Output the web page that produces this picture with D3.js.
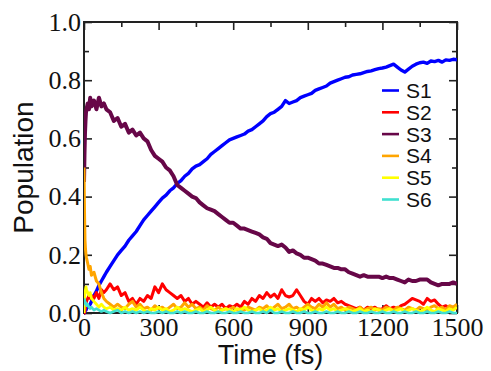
<!DOCTYPE html>
<html><head><meta charset="utf-8">
<script src="https://cdn.jsdelivr.net/npm/d3@7"></script>
<style>body{margin:0;background:#fff}svg{display:block}</style>
</head><body><svg id="c" width="491" height="371"></svg>
<script>
const time = [0,2,4,6,8,10,15,20,25,30,40,50,60,70,80,
 90,105,120,135,150,165,180,195,210,225,
 240,255,270,285,300,315,330,345,360,375,
 390,405,420,435,450,465,480,495,510,525,
 540,555,570,585,600,615,630,645,660,675,
 690,705,720,735,750,765,780,795,810,825,
 840,855,870,885,900,915,930,945,960,975,
 990,1005,1020,1035,1050,1065,1080,1095,1110,1125,
 1140,1155,1170,1185,1200,1215,1230,1245,1260,1275,
 1290,1305,1320,1335,1350,1365,1380,1395,1410,1425,
 1440,1455,1470,1485,1500];

const s1 = [0,0,0.005,0.01,0.01,0.015,0.02,0.025,0.03,0.04,0.06,0.075,0.095,0.11,0.125,
 0.14,0.16,0.18,0.20,0.215,0.23,0.25,0.265,0.28,0.30,
 0.32,0.335,0.35,0.365,0.38,0.395,0.405,0.42,0.43,0.445,
 0.455,0.47,0.48,0.495,0.505,0.51,0.52,0.53,0.545,0.555,
 0.565,0.575,0.585,0.595,0.60,0.605,0.61,0.615,0.625,0.63,
 0.64,0.65,0.66,0.675,0.685,0.69,0.70,0.71,0.73,0.72,
 0.725,0.73,0.74,0.745,0.75,0.755,0.765,0.77,0.775,0.78,
 0.79,0.795,0.80,0.805,0.81,0.812,0.818,0.82,0.822,0.826,
 0.83,0.832,0.836,0.84,0.842,0.845,0.85,0.855,0.845,0.835,
 0.828,0.838,0.848,0.855,0.86,0.862,0.858,0.866,0.864,0.868,
 0.862,0.87,0.868,0.872,0.87];

const s2 = [0,0,0.01,0.02,0.03,0.04,0.05,0.06,0.05,0.06,0.05,0.07,0.05,0.08,0.07,
 0.08,0.10,0.08,0.09,0.06,0.07,0.04,0.05,0.03,0.05,
 0.04,0.06,0.05,0.09,0.07,0.10,0.08,0.07,0.06,0.05,
 0.06,0.04,0.05,0.03,0.04,0.03,0.02,0.035,0.02,0.03,
 0.02,0.03,0.015,0.025,0.02,0.03,0.02,0.04,0.03,0.05,
 0.04,0.06,0.05,0.07,0.055,0.065,0.05,0.08,0.06,0.055,
 0.06,0.08,0.06,0.04,0.03,0.05,0.04,0.05,0.035,0.045,
 0.04,0.05,0.035,0.04,0.03,0.025,0.02,0.015,0.02,0.01,
 0.02,0.015,0.02,0.01,0.015,0.025,0.015,0.02,0.015,0.025,
 0.03,0.04,0.05,0.045,0.04,0.03,0.05,0.04,0.045,0.03,
 0.02,0.025,0.015,0.02,0.015];

const s3 = [0.45,0.55,0.62,0.66,0.69,0.70,0.72,0.70,0.74,0.71,0.73,0.70,0.74,0.71,0.72,
 0.70,0.69,0.66,0.67,0.64,0.65,0.62,0.63,0.61,0.62,
 0.60,0.59,0.56,0.54,0.53,0.52,0.50,0.49,0.47,0.44,
 0.43,0.42,0.41,0.40,0.395,0.38,0.37,0.36,0.355,0.35,
 0.34,0.33,0.32,0.31,0.31,0.30,0.29,0.29,0.285,0.28,
 0.275,0.27,0.26,0.255,0.24,0.235,0.23,0.235,0.225,0.21,
 0.215,0.205,0.20,0.19,0.19,0.185,0.18,0.17,0.17,0.165,
 0.16,0.155,0.155,0.15,0.15,0.14,0.135,0.13,0.125,0.13,
 0.125,0.125,0.125,0.125,0.12,0.125,0.12,0.12,0.115,0.11,
 0.105,0.115,0.11,0.11,0.115,0.115,0.115,0.105,0.10,0.095,
 0.10,0.10,0.10,0.105,0.10];

const s4 = [0.50,0.35,0.25,0.22,0.20,0.19,0.17,0.15,0.16,0.13,0.14,0.11,0.10,0.07,0.05,
 0.04,0.03,0.02,0.03,0.02,0.015,0.03,0.04,0.02,0.03,
 0.015,0.02,0.01,0.025,0.015,0.02,0.01,0.02,0.03,0.015,
 0.02,0.035,0.02,0.03,0.015,0.02,0.01,0.025,0.015,0.01,
 0.02,0.01,0.015,0.01,0.02,0.01,0.015,0.01,0.02,0.015,
 0.01,0.02,0.015,0.025,0.01,0.02,0.03,0.015,0.02,0.03,
 0.015,0.02,0.01,0.02,0.03,0.02,0.015,0.03,0.02,0.035,
 0.02,0.03,0.015,0.02,0.01,0.02,0.015,0.01,0.02,0.01,
 0.015,0.02,0.01,0.015,0.01,0.02,0.015,0.01,0.02,0.015,
 0.01,0.02,0.015,0.01,0.02,0.015,0.01,0.02,0.025,0.015,
 0.02,0.01,0.025,0.02,0.03];

const s5 = [0,0.04,0.07,0.08,0.09,0.08,0.07,0.06,0.07,0.05,0.04,0.03,0.02,0.03,0.02,
 0.015,0.02,0.01,0.015,0.01,0.02,0.01,0.015,0.01,0.02,
 0.01,0.005,0.015,0.01,0.02,0.01,0.015,0.005,0.01,0.02,
 0.01,0.015,0.01,0.005,0.01,0.015,0.005,0.01,0.02,0.01,
 0.005,0.01,0.015,0.01,0.005,0.015,0.01,0.02,0.01,0.005,
 0.01,0.015,0.005,0.01,0.02,0.01,0.015,0.005,0.01,0.015,
 0.01,0.005,0.015,0.01,0.02,0.01,0.005,0.015,0.01,0.02,
 0.01,0.015,0.005,0.01,0.015,0.01,0.005,0.01,0.015,0.005,
 0.01,0.005,0.015,0.01,0.005,0.01,0.015,0.005,0.01,0.015,
 0.005,0.01,0.015,0.01,0.005,0.01,0.02,0.01,0.005,0.015,
 0.01,0.005,0.015,0.01,0.02];

const s6 = [0.05,0.045,0.04,0.03,0.035,0.025,0.03,0.02,0.015,0.02,0.01,0.015,0.01,0.005,0.01,
 0.005,0,0.005,0.01,0,0.005,0,0.005,0,0.005,
 0,0.005,0,0,0.005,0,0.005,0,0,0.005,
 0,0.005,0,0,0.005,0,0,0.005,0,0,
 0.005,0,0,0.005,0,0,0.005,0,0,0.005,
 0,0,0.005,0,0.01,0,0,0.005,0,0,
 0.005,0,0,0.005,0,0,0.005,0,0,0.005,
 0,0,0.005,0,0,0.005,0,0,0.005,0,
 0,0.005,0,0,0.005,0,0,0.005,0,0,
 0.005,0,0,0.005,0,0,0.005,0,0,0.005,
 0,0,0.005,0,0];

const seriesNames = ["S1","S2","S3","S4","S5","S6"];
const seriesValues = [s1,s2,s3,s4,s5,s6];
const seriesColors = ["#0000ff","#ff0000","#670748","#ffa500","#ffff00","#40e0d0"];
const seriesWidths = [3.4,3,4,3,2.8,2.6];
const xTicks = [0,300,600,900,1200,1500];
const xMinor = [150,450,750,1050,1350];
const yTicks = [0.0,0.2,0.4,0.6,0.8,1.0];
const yMinor = [0.1,0.3,0.5,0.7,0.9];
const xTitle = "Time (fs)";
const yTitle = "Population";

const svg = d3.select("#c");
const L = 84, R = 457, T = 22, B = 313;
const x = d3.scaleLinear().domain([0,1500]).range([L,R]);
const y = d3.scaleLinear().domain([0,1]).range([B,T]);

const serif = "'Liberation Serif','Times New Roman',Times,serif";
const sans = "'Liberation Sans',Arial,Helvetica,sans-serif";

svg.append("rect").attr("x",L).attr("y",T).attr("width",R-L).attr("height",B-T)
  .attr("fill","none").attr("stroke","#222").attr("stroke-width",2);

function styleAxis(g){
  g.select(".domain").remove();
  g.selectAll(".tick line").attr("stroke","#222").attr("stroke-width",1.6);
  g.selectAll("text").attr("font-family",serif).attr("font-size",26).attr("fill","#111");
}

svg.append("g").attr("transform",`translate(0,${B})`)
  .call(d3.axisBottom(x).tickValues(xTicks).tickSize(-8).tickPadding(5).tickFormat(d3.format("d")))
  .call(styleAxis);
svg.append("g").attr("transform",`translate(0,${B})`)
  .call(d3.axisBottom(x).tickValues(xMinor).tickSize(-5).tickFormat(""))
  .call(styleAxis);
svg.append("g").attr("transform",`translate(0,${T})`)
  .call(d3.axisTop(x).tickValues(xTicks).tickSize(-8).tickFormat(""))
  .call(styleAxis);
svg.append("g").attr("transform",`translate(0,${T})`)
  .call(d3.axisTop(x).tickValues(xMinor).tickSize(-5).tickFormat(""))
  .call(styleAxis);
svg.append("g").attr("transform",`translate(${L},0)`)
  .call(d3.axisLeft(y).tickValues(yTicks).tickSize(-8).tickPadding(3).tickFormat(d3.format(".1f")))
  .call(styleAxis);
svg.append("g").attr("transform",`translate(${L},0)`)
  .call(d3.axisLeft(y).tickValues(yMinor).tickSize(-5).tickFormat(""))
  .call(styleAxis);
svg.append("g").attr("transform",`translate(${R},0)`)
  .call(d3.axisRight(y).tickValues(yTicks).tickSize(-8).tickFormat(""))
  .call(styleAxis);
svg.append("g").attr("transform",`translate(${R},0)`)
  .call(d3.axisRight(y).tickValues(yMinor).tickSize(-5).tickFormat(""))
  .call(styleAxis);

svg.append("clipPath").attr("id","clip").append("rect")
  .attr("x",L).attr("y",T).attr("width",R-L).attr("height",B-T+2);
const line = d3.line().x((d,i)=>x(time[i])).y(d=>y(d));
const lg = svg.append("g").attr("clip-path","url(#clip)");
seriesValues.forEach((vals,k)=>{
  lg.append("path").datum(vals).attr("d",line)
    .attr("fill","none").attr("stroke",seriesColors[k]).attr("stroke-width",seriesWidths[k])
    .attr("stroke-linejoin","round");
});

const leg = svg.append("g");
leg.append("rect").attr("x",378).attr("y",79).attr("width",60).attr("height",132).attr("fill","#fff");
seriesNames.forEach((n,k)=>{
  const by = 98 + k*21.8;
  leg.append("line").attr("x1",382).attr("x2",399).attr("y1",by-7.5).attr("y2",by-7.5)
    .attr("stroke",seriesColors[k]).attr("stroke-width",2.6);
  leg.append("text").attr("x",406).attr("y",by).text(n)
    .attr("font-family",sans).attr("font-size",21).attr("fill","#111");
});

svg.append("text").attr("x",(L+R)/2).attr("y",364).attr("text-anchor","middle")
  .attr("font-family",sans).attr("font-size",27).attr("fill","#111").text(xTitle);
svg.append("text").attr("transform",`translate(33,${(T+B)/2}) rotate(-90)`).attr("text-anchor","middle")
  .attr("font-family",sans).attr("font-size",28).attr("fill","#111").text(yTitle);
</script>
</body></html>
